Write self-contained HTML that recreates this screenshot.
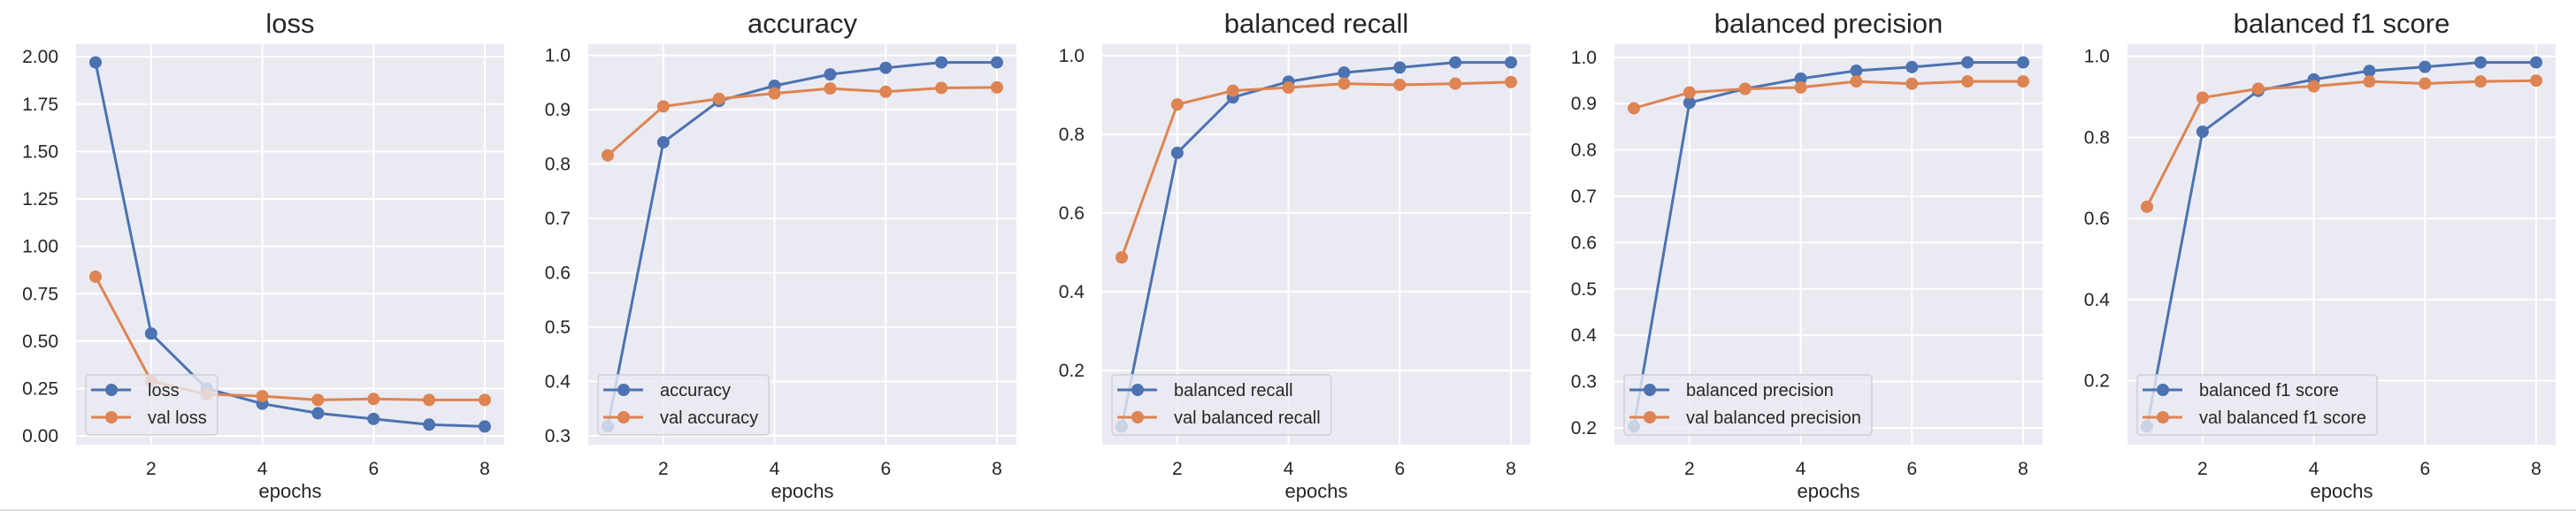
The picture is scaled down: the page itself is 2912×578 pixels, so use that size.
<!DOCTYPE html>
<html><head><meta charset="utf-8">
<style>
html,body{margin:0;padding:0;background:#fff;}
svg{display:block;font-family:"Liberation Sans",Arial,sans-serif;}
</style></head>
<body>
<svg id="chart" width="2912" height="578" viewBox="0 0 2912 578" xmlns="http://www.w3.org/2000/svg">
<line x1="0" y1="577" x2="2912" y2="577" stroke="#dcdcdc" stroke-width="2"/>
</svg>
<script>
const epochs = [1,2,3,4,5,6,7,8];
const xTicks = [2,4,6,8];
const titles = ["loss","accuracy","balanced recall","balanced precision","balanced f1 score"];
const trainLoss = [1.97,0.54,0.25,0.17,0.12,0.09,0.06,0.05];
const valLoss = [0.84,0.29,0.22,0.21,0.19,0.195,0.19,0.19];
const trainAcc = [0.317,0.840,0.916,0.944,0.965,0.977,0.987,0.987];
const valAcc = [0.816,0.906,0.920,0.930,0.939,0.933,0.940,0.941];
const trainRecall = [0.057,0.753,0.894,0.934,0.957,0.970,0.983,0.983];
const valRecall = [0.487,0.876,0.911,0.919,0.929,0.926,0.929,0.933];
const trainPrec = [0.203,0.902,0.932,0.954,0.971,0.979,0.989,0.989];
const valPrec = [0.890,0.924,0.932,0.935,0.948,0.943,0.948,0.948];
const trainF1 = [0.087,0.814,0.915,0.943,0.964,0.974,0.985,0.985];
const valF1 = [0.629,0.898,0.920,0.926,0.938,0.933,0.938,0.940];
const lossTicks = ["0.00","0.25","0.50","0.75","1.00","1.25","1.50","1.75","2.00"];
const accTicks = ["0.3","0.4","0.5","0.6","0.7","0.8","0.9","1.0"];
const recallTicks = ["0.2","0.4","0.6","0.8","1.0"];
const precTicks = ["0.2","0.3","0.4","0.5","0.6","0.7","0.8","0.9","1.0"];
const f1Ticks = ["0.2","0.4","0.6","0.8","1.0"];
const trainSeries = [trainLoss,trainAcc,trainRecall,trainPrec,trainF1];
const valSeries = [valLoss,valAcc,valRecall,valPrec,valF1];
const yTickSets = [lossTicks,accTicks,recallTicks,precTicks,f1Ticks];
const trainLabels = ["loss","accuracy","balanced recall","balanced precision","balanced f1 score"];
const valLabels = ["val loss","val accuracy","val balanced recall","val balanced precision","val balanced f1 score"];

const NS="http://www.w3.org/2000/svg";
const svg=document.getElementById('chart');
const panelLeft=[86,665,1246,1825,2405];
const W=484, TOP=50, BOT=503;
const BLUE="#4C72B0", ORANGE="#DD8452";
function mk(tag,attrs,parent){const e=document.createElementNS(NS,tag);for(const k in attrs)e.setAttribute(k,attrs[k]);(parent||svg).appendChild(e);return e;}

for(let p=0;p<5;p++){
  const L=panelLeft[p];
  const g=mk('g',{});
  
  
  const all=trainSeries[p].concat(valSeries[p]);
  const mn=Math.min(...all), mx=Math.max(...all), m=(mx-mn)*0.05;
  const y0=mn-m, y1=mx+m;
  const xmin=epochs[0]-(epochs[epochs.length-1]-epochs[0])*0.05, xmax=epochs[epochs.length-1]+(epochs[epochs.length-1]-epochs[0])*0.05;
  const xs=v=>L+(v-xmin)/(xmax-xmin)*W;
  const ys=v=>BOT-(v-y0)/(y1-y0)*(BOT-TOP);
  const bg=mk('rect',{x:L,y:TOP,width:W,height:BOT-TOP,fill:"#EAEAF2"},g);
  
  
  yTickSets[p].forEach(t=>{
    const v=parseFloat(t), y=ys(v);
    const gl=mk('line',{x1:L,x2:L+W,y1:y,y2:y,stroke:"#fff","stroke-width":2},g);
    
    
    const tx=mk('text',{x:L-20,y:y+7,"text-anchor":"end","font-size":21,fill:"#262626"},g);
    tx.textContent=t;
    
    
  });
  xTicks.forEach(t=>{
    const x=xs(t);
    const gl=mk('line',{x1:x,x2:x,y1:TOP,y2:BOT,stroke:"#fff","stroke-width":2},g);
    
    
    const tx=mk('text',{x:x,y:537,"text-anchor":"middle","font-size":21,fill:"#262626"},g);
    tx.textContent=t;
    
    
  });
  const ti=mk('text',{x:L+W/2,y:37,"text-anchor":"middle","font-size":31,fill:"#262626"},g);
  ti.textContent=titles[p];
  
  
  const xl=mk('text',{x:L+W/2,y:563,"text-anchor":"middle","font-size":22,fill:"#262626"},g);
  xl.textContent="epochs";
  
  
  [[trainSeries[p],BLUE,'train'],[valSeries[p],ORANGE,'val']].forEach(([s,c,nm])=>{
    const pts=s.map((v,i)=>xs(epochs[i])+','+ys(v)).join(' ');
    const pl=mk('polyline',{points:pts,fill:"none",stroke:c,"stroke-width":3},g);
    
    
    s.forEach((v,i)=>{
      const ci=mk('circle',{cx:xs(epochs[i]),cy:ys(v),r:7,fill:c},g);
      
      
    });
  });
  // legend
  const lg=mk('g',{},g);
  
  
  const ctx=document.createElement('canvas').getContext('2d');
  ctx.font='20px "Liberation Sans", Arial, sans-serif';
  const tw=Math.max(ctx.measureText(trainLabels[p]).width,ctx.measureText(valLabels[p]).width);
  mk('rect',{x:L+11,y:BOT-79,width:(167-97)+tw+12,height:68,rx:4,fill:"rgba(234,234,242,0.8)",stroke:"#cfcfd6","stroke-width":1.5},lg);
  [[trainLabels[p],BLUE,441],[valLabels[p],ORANGE,472]].forEach(([lab,c,yy])=>{
    const e=mk('g',{},lg);
    
    
    mk('line',{x1:L+17,x2:L+62,y1:yy,y2:yy,stroke:c,"stroke-width":3},e);
    mk('circle',{cx:L+40,cy:yy,r:7,fill:c},e);
    const t=mk('text',{x:L+81,y:yy+7,"font-size":20,fill:"#262626"},e);
    t.textContent=lab;
  });
}
</script>
</body></html>
